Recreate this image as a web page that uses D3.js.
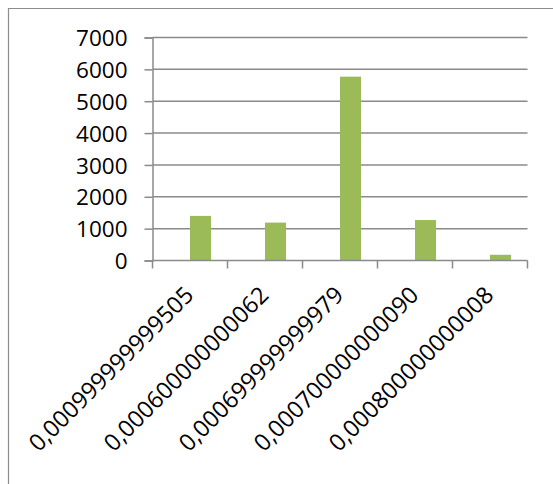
<!DOCTYPE html>
<html>
<head>
<meta charset="utf-8">
<script src="https://cdn.jsdelivr.net/npm/d3@7"></script>
<style>
  html, body { margin: 0; padding: 0; background: #fff; }
  svg { display: block; }
  text { font-family: "Open Sans", "Noto Sans", sans-serif; fill: #000; }
</style>
</head>
<body>
<svg id="chart" width="553" height="484"></svg>
<script>
// Bin labels along the category axis
const categories = [
  "0,000999999999505",
  "0,000600000000062",
  "0,000699999999979",
  "0,000700000000090",
  "0,000800000000008"
];
// Counts per bin
const counts = [1400, 1190, 5770, 1270, 180];
// Slots inside each category group; only the second one carries data
const slots = ["empty", "counts"];
// Value axis ticks
const yTicks = [0, 1000, 2000, 3000, 4000, 5000, 6000, 7000];

const svg = d3.select("#chart");

const plot = { left: 152.5, right: 527.5, top: 37.5, bottom: 260.5 };

const x0 = d3.scaleBand().domain(categories).range([plot.left, plot.right]).padding(0);
const x1 = d3.scaleBand().domain(slots).range([0, x0.bandwidth()])
  .paddingInner(0).paddingOuter(0.786);
const y = d3.scaleLinear().domain([0, 7000]).range([plot.bottom, plot.top]);

const gridColor = "#8a8a8a";
const fontFamily = "'Open Sans', 'Noto Sans', sans-serif";

// chart area frame (left and top edges)
svg.append("path")
  .attr("d", "M8.5,484 V8.5 H553")
  .attr("fill", "none")
  .attr("stroke", "#8c8c8c")
  .attr("stroke-width", 1.2);

// horizontal gridlines
svg.append("g")
  .selectAll("line")
  .data(yTicks.filter(t => t !== 0))
  .join("line")
  .attr("x1", plot.left).attr("x2", plot.right)
  .attr("y1", d => y(d)).attr("y2", d => y(d))
  .attr("stroke", gridColor).attr("stroke-width", 1.5);

// value axis
const yAxis = d3.axisLeft(y).tickValues(yTicks).tickSize(8).tickPadding(17)
  .tickFormat(d3.format("d"));
const gy = svg.append("g").attr("transform", `translate(${plot.left},0)`).call(yAxis);
gy.select(".domain").attr("stroke", gridColor).attr("stroke-width", 1.5);
gy.selectAll(".tick line").attr("stroke", gridColor).attr("stroke-width", 1.5);
gy.selectAll(".tick text")
  .attr("font-size", 22.5)
  .attr("font-family", fontFamily)
  .attr("fill", "#000")
  .attr("dy", "0.36em");

// bars
svg.append("g")
  .selectAll("rect")
  .data(categories.map((c, i) => ({ c, v: counts[i] })))
  .join("rect")
  .attr("x", d => x0(d.c) + x1("counts"))
  .attr("width", x1.bandwidth())
  .attr("y", d => y(d.v))
  .attr("height", d => y(0) - y(d.v))
  .attr("fill", "#9bbb59");

// category axis with ticks at group boundaries
const gx = svg.append("g").attr("transform", `translate(0,${plot.bottom})`);
gx.append("line")
  .attr("x1", plot.left).attr("x2", plot.right)
  .attr("stroke", gridColor).attr("stroke-width", 1.5);
const bounds = categories.map(c => x0(c)).concat([plot.right]);
gx.selectAll("line.tk")
  .data(bounds)
  .join("line")
  .attr("class", "tk")
  .attr("x1", d => d).attr("x2", d => d)
  .attr("y1", 0).attr("y2", 8)
  .attr("stroke", gridColor).attr("stroke-width", 1.5);

// rotated category labels
gx.selectAll("text")
  .data(categories)
  .join("text")
  .attr("transform", d => `translate(${x0(d) + x0.bandwidth() / 2 + 5},${36}) rotate(-45)`)
  .attr("text-anchor", "end")
  .attr("font-size", 23.5)
  .attr("font-family", fontFamily)
  .text(d => d);
</script>
</body>
</html>
